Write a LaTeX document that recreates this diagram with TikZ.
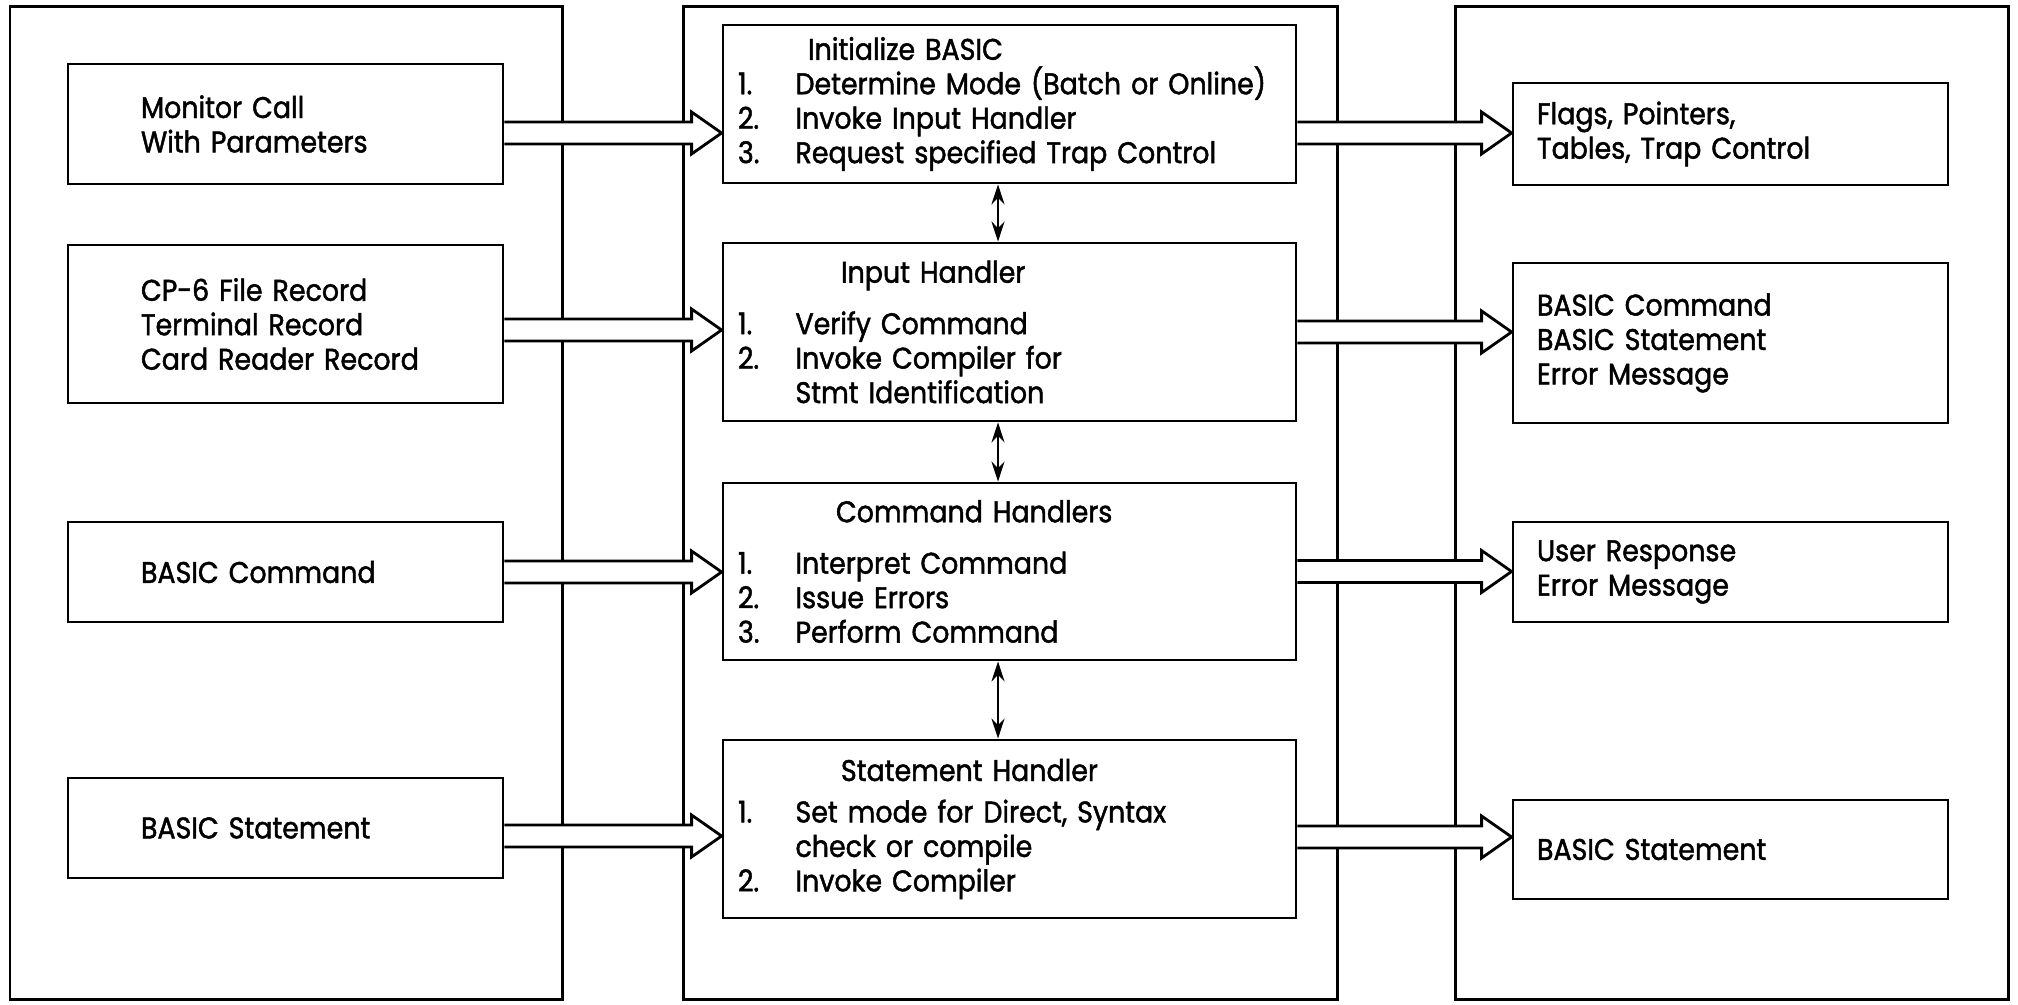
\documentclass[tikz,border=0pt]{standalone}
\usepackage{fontspec}
\setmainfont{Poppins}[FakeStretch=0.9, FakeBold=1.5]
\usetikzlibrary{calc, arrows.meta}

\newcommand{\itm}[1]{\makebox[11.5mm][l]{#1}}

\begin{document}
\begin{tikzpicture}[x=0.2mm, y=-0.2mm, font=\fontsize{17}{19.6}\selectfont,
  panel/.style={rectangle, draw, line width=1.7pt, minimum width=#1, minimum height=198.4mm},
  lbox/.style={rectangle, draw, line width=1.6pt, align=left, minimum width=87mm, text width=57.8mm, inner xsep=14.6mm, inner ysep=0pt},
  cbox/.style={rectangle, draw, line width=1.6pt, align=left, minimum width=114.6mm, text width=108.6mm, inner xsep=3mm, inner ysep=0pt},
  rbox/.style={rectangle, draw, line width=1.6pt, align=left, minimum width=87mm, text width=77.4mm, inner xsep=4.8mm, inner ysep=0pt},
  fat/.style={fill=white, line width=1.6pt, to path={let \p1=(\tikztostart), \p2=(\tikztotarget) in
    (\x1,\y1+2.2mm) -- (\x2-6mm,\y1+2.2mm) -- (\x2-6mm,\y1+4.2mm) -- (\x2,\y1)
    -- (\x2-6mm,\y1-4.2mm) -- (\x2-6mm,\y1-2.2mm) -- (\x1,\y1-2.2mm)}},
  dbl/.style={line width=1.5pt, {Stealth[length=4mm, width=2.6mm]}-{Stealth[length=4mm, width=2.6mm]}}]
\useasboundingbox (0,0) rectangle (2018,1005);

\node (lpanel) [panel=110.4mm] at (286,503) {};
\node (cpanel) [panel=130.8mm] at (1010,503) {};
\node (rpanel) [panel=110.6mm] at (1731.5,503) {};

\node (monitor) [lbox, minimum height=24mm] at (285.5,124) {Monitor Call\\With Parameters};
\node (records) [lbox, minimum height=31.6mm] at (285.5,324) {CP-6 File Record\\Terminal Record\\Card Reader Record};
\node (cmdin) [lbox, minimum height=20mm] at (285.5,572) {BASIC Command};
\node (stmtin) [lbox, minimum height=20mm] at (285.5,828) {BASIC Statement};

\node (init) [cbox, minimum height=31.6mm] at (1009.5,104) {\hspace*{14mm}Initialize BASIC\\\itm{1.}Determine Mode (Batch or Online)\\\itm{2.}Invoke Input Handler\\\itm{3.}Request specified Trap Control};
\node (input) [cbox, minimum height=35.6mm] at (1009.5,332) {\hspace*{20.6mm}Input Handler\\[3.4mm]\itm{1.}Verify Command\\\itm{2.}Invoke Compiler for\\\itm{}Stmt Identification};
\node (cmdh) [cbox, minimum height=35.4mm] at (1009.5,571.5) {\hspace*{19.6mm}Command Handlers\\[3.4mm]\itm{1.}Interpret Command\\\itm{2.}Issue Errors\\\itm{3.}Perform Command};
\node (stmth) [cbox, minimum height=35.6mm] at (1009.5,829) {\hspace*{20.6mm}Statement Handler\\[1.4mm]\itm{1.}Set mode for Direct, Syntax\\\itm{}check or compile\\\itm{2.}Invoke Compiler};

\node (flags) [rbox, minimum height=20.4mm] at (1730.5,134) {Flags, Pointers,\\Tables, Trap Control};
\node (cmdout) [rbox, minimum height=32mm] at (1730.5,343) {BASIC Command\\BASIC Statement\\Error Message};
\node (resp) [rbox, minimum height=20mm] at (1730.5,572) {User Response\\Error Message};
\node (stmtout) [rbox, minimum height=19.8mm] at (1730.5,849.5) {BASIC Statement};

\draw [fat] ([yshift=-1.8mm]monitor.east) to (init.west);
\draw [fat] ([yshift=-1.2mm]records.east) to (input.west);
\draw [fat] (cmdin.east) to (cmdh.west);
\draw [fat] ([yshift=-1.6mm]stmtin.east) to (stmth.west);
\draw [fat] ([yshift=-5.8mm]init.east) to (flags.west);
\draw [fat] (input.east) to (cmdout.west);
\draw [fat] (cmdh.east) to (resp.west);
\draw [fat] ([yshift=-1.6mm]stmth.east) to (stmtout.west);

\draw [dbl] ([xshift=-2.3mm]init.south) -- ([xshift=-2.3mm]input.north);
\draw [dbl] ([xshift=-2.3mm]input.south) -- ([xshift=-2.3mm]cmdh.north);
\draw [dbl] ([xshift=-2.3mm]cmdh.south) -- ([xshift=-2.3mm]stmth.north);
\end{tikzpicture}
\end{document}
